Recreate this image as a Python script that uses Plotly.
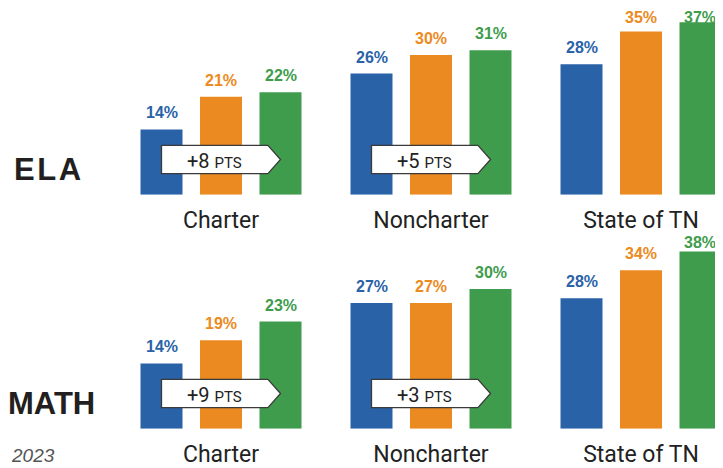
import plotly.graph_objects as go

# ---------------- data ----------------
categories = ["Charter", "Noncharter", "State of TN"]
years = ["2021", "2022", "2023"]
ela = {
    "2021": [14, 26, 28],
    "2022": [21, 30, 35],
    "2023": [22, 31, 37],
}
math_ = {
    "2021": [14, 27, 28],
    "2022": [19, 27, 34],
    "2023": [23, 30, 38],
}
subjects = ["ELA", "MATH"]
footnote = "2023"

# ---------------- style ----------------
colors = {"2021": "#2a62a8", "2022": "#ec8a22", "2023": "#409c4d"}
OFF = 8                      # page body margin of the browser
W, H = 723 - OFF, 468 - OFF
BARGAP = 0.15
GROUPGAP = 0.294
slot = (1 - BARGAP) / 3
UNIT_PX = 210.0
X0 = -(221 - OFF) / UNIT_PX
X1 = X0 + W / UNIT_PX
PX_PER_PCT = 4.66
base_top = 194.7 - OFF
base_bot = 428.7 - OFF
YMAX = base_top / PX_PER_PCT
panel_h = YMAX * PX_PER_PCT
domains = [[1 - base_top / H, 1.0],
           [1 - base_bot / H, 1 - (base_bot - panel_h) / H]]
LABEL_GAP = 16.5
LABEL_MAX = [177.5, 186.0]   # highest label centre above the baseline, px


def py(yref_px):
    return 1 - (yref_px - OFF) / H


def px(xref_px):
    return (xref_px - OFF) / W


fig = go.Figure()
panels = [ela, math_]
for p, data in enumerate(panels):
    xa = "x" if p == 0 else "x2"
    ya = "y" if p == 0 else "y2"
    for yr in years:
        fig.add_trace(go.Bar(
            x=list(range(len(categories))), y=data[yr], name=yr,
            marker=dict(color=colors[yr], line=dict(width=0)),
            xaxis=xa, yaxis=ya, showlegend=False, hoverinfo="skip",
        ))
    # value labels
    for i, yr in enumerate(years):
        for g, v in enumerate(data[yr]):
            shift = min(LABEL_GAP, LABEL_MAX[p] - v * PX_PER_PCT)
            fig.add_annotation(
                x=g + (i - 1) * slot, y=v, xref=xa, yref=ya,
                text=f"<b>{v}%</b>", showarrow=False,
                yanchor="middle", yshift=shift,
                xshift=(-1 if g == len(categories) - 1 and i == len(years) - 1 else 0),
                font=dict(family="Liberation Sans, Arial", size=16, color=colors[yr]),
            )
    # change boxes (Charter, Noncharter)
    first, last = years[0], years[-1]
    tip_len = 12.6 / UNIT_PX
    yb = 21 / PX_PER_PCT
    yt = 49.4 / PX_PER_PCT
    ym = (yb + yt) / 2
    for g in range(2):
        diff = data[last][g] - data[first][g]
        xl = g - slot
        xt = g + slot
        xr = xt - tip_len
        path = f"M {xl},{yb} L {xr},{yb} L {xt},{ym} L {xr},{yt} L {xl},{yt} Z"
        fig.add_shape(type="path", path=path, xref=xa, yref=ya,
                      fillcolor="white", line=dict(color="#3a3a3a", width=1.3),
                      layer="above")
        fig.add_annotation(
            x=(xl + xr) / 2, y=ym, xref=xa, yref=ya, showarrow=False,
            text=f"+{diff} <span style='font-size:15px'>PTS</span>",
            yanchor="middle", yshift=-1,
            font=dict(family="Roboto, Liberation Sans", size=20, color="#222222"),
        )

# subject labels
fig.add_annotation(
    x=px(47), y=py(169), xref="paper", yref="paper",
    text="<b>" + "\u200a".join(subjects[0]) + "</b>", showarrow=False,
    xanchor="center", yanchor="middle",
    font=dict(family="Liberation Sans, Arial", size=31, color="#231f20"),
)
fig.add_annotation(
    x=0, y=py(403.7), xref="paper", yref="paper",
    text="<b>" + subjects[1] + "</b>", showarrow=False,
    xanchor="left", yanchor="middle", xshift=-2,
    font=dict(family="Liberation Sans, Arial", size=31, color="#231f20"),
)

fig.add_annotation(
    x=0, y=py(455), xref="paper", yref="paper", text=f"<i>{footnote}</i>",
    showarrow=False, xanchor="left", yanchor="middle", xshift=1,
    font=dict(family="Liberation Sans, Arial", size=19, color="#555555"),
)

axis_common = dict(range=[X0, X1], showgrid=False, zeroline=False, showline=False,
                   tickmode="array", tickvals=list(range(len(categories))),
                   ticktext=categories, ticks="", ticklabelstandoff=9,
                   automargin=False,
                   tickfont=dict(family="Roboto, Liberation Sans", size=23, color="#222222"),
                   fixedrange=True)
yaxis_common = dict(range=[0, YMAX], visible=False, fixedrange=True, automargin=False)

fig.update_layout(
    width=W, height=H,
    margin=dict(l=0, r=0, t=0, b=0, autoexpand=False),
    paper_bgcolor="white", plot_bgcolor="white",
    barmode="group", bargap=BARGAP, bargroupgap=GROUPGAP,
    xaxis=dict(domain=[0, 1], anchor="y", **axis_common),
    xaxis2=dict(domain=[0, 1], anchor="y2", **axis_common),
    yaxis=dict(domain=domains[0], anchor="x", **yaxis_common),
    yaxis2=dict(domain=domains[1], anchor="x2", **yaxis_common),
)

fig.write_html("out.html")
